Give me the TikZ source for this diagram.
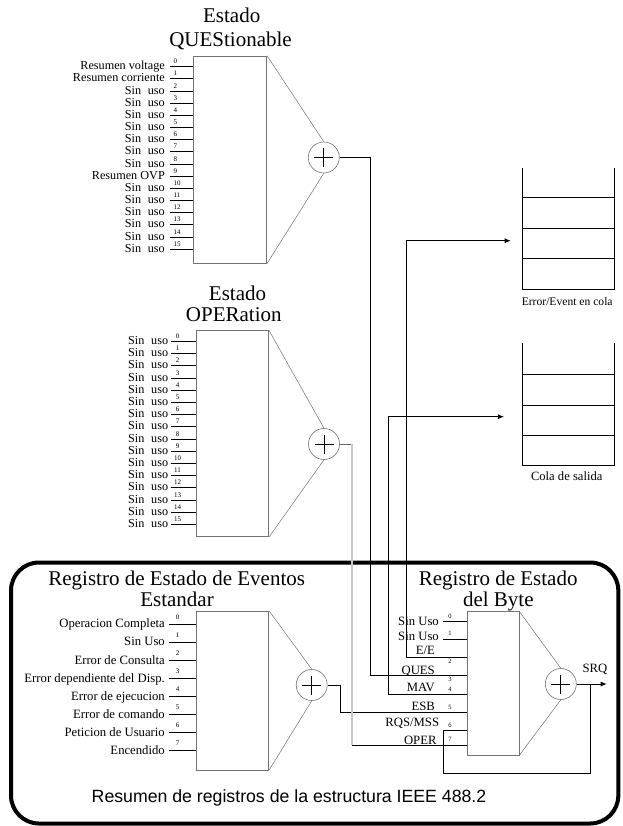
\documentclass[tikz,border=0pt]{standalone}
\usepackage{fontspec}
\setmainfont{Liberation Serif}
\setsansfont{Liberation Sans}
\usetikzlibrary{arrows.meta}
\newcommand\sinuso{Sin\hspace{0.55em}uso}
\newcommand\plusin[1]{\draw[line width=0.7pt] ([xshift=-9.5pt]#1.center) -- ([xshift=9.5pt]#1.center) ([yshift=-9.5pt]#1.center) -- ([yshift=9.5pt]#1.center);}
\begin{document}
\begin{tikzpicture}[x=1pt,y=-1pt,
  regbox/.style={draw=black!55, line width=0.6pt, inner sep=0pt, rectangle},
  sumc/.style={circle, draw=black!55, line width=0.6pt, minimum size=31pt, inner sep=0pt},
  tri/.style={draw=black!55, line width=0.5pt},
  wire/.style={draw=black, line width=0.9pt},
  arr/.style={-{Latex[length=6pt,width=5pt]}},
  lbl/.style={font=\fontsize{12.7}{13}\selectfont, inner sep=0pt},
  lbls/.style={font=\fontsize{12.2}{12.2}\selectfont, inner sep=0pt},
  bitn/.style={font=\fontsize{7}{7}\selectfont, inner sep=0pt},
  ttl/.style={font=\fontsize{21}{22}\selectfont, inner sep=0pt, anchor=base}]
\useasboundingbox (0,0) rectangle (622,826);

% ---------- frame ----------
\draw[line width=4pt, rounded corners=28pt] (11,562.5) rectangle (618.3,823.5);
\node[font=\sffamily\fontsize{17.7}{18}\selectfont, inner sep=0pt, anchor=base] (ftext) at (289,802) {Resumen de registros de la estructura IEEE 488.2};

% ---------- boxes and summing nodes ----------
\node[regbox, minimum width=73.4pt, minimum height=207.3pt] (qbox) at (230,159.65) {};
\node[sumc] (qsum) at (323.8,157.5) {};
\node[regbox, minimum width=72pt, minimum height=206pt] (obox) at (232.7,433.7) {};
\node[sumc] (osum) at (324,444) {};
\node[regbox, minimum width=72pt, minimum height=159pt] (sbox) at (232.7,690.5) {};
\node[sumc] (ssum) at (311.7,685) {};
\node[regbox, minimum width=51.3pt, minimum height=143.3pt] (bbox) at (493.35,683.35) {};
\node[sumc] (bsum) at (560.8,684) {};
\plusin{qsum}\plusin{osum}\plusin{ssum}\plusin{bsum}

\draw[tri] (qbox.north east) -- (qsum.north) (qbox.south east) -- (qsum.south);
\draw[tri] (obox.north east) -- (osum.north) (obox.south east) -- (osum.south);
\draw[tri] (sbox.north east) -- (ssum.north) (sbox.south east) -- (ssum.south);
\draw[tri] (bbox.north east) -- (bsum.north) (bbox.south east) -- (bsum.south);

% ---------- titles ----------
\node[ttl] (qt1) at (231.7,23) {Estado};
\node[ttl] (qt2) at (230.5,46.5) {QUEStionable};
\node[ttl] (ot1) at (237.5,300.7) {Estado};
\node[ttl] (ot2) at (233.8,321.7) {OPERation};
\node[ttl] (st1) at (176.7,585) {Registro de Estado de Eventos};
\node[ttl] (st2) at (177,606.7) {Estandar};
\node[ttl] (bt1) at (498.2,585) {Registro de Estado};
\node[ttl] (bt2) at (498.3,606.7) {del Byte};

% ---------- QUEStionable inputs ----------
\foreach \t [count=\i from 0] in {Resumen voltage,Resumen corriente,\sinuso,\sinuso,\sinuso,\sinuso,\sinuso,\sinuso,\sinuso,Resumen OVP,\sinuso,\sinuso,\sinuso,\sinuso,\sinuso,\sinuso}{
  \pgfmathsetmacro\yy{66.7+12.17*\i}
  \coordinate (qin\i) at (170,\yy);
  \draw[wire] (qin\i) -- (qin\i -| qbox.west);
  \node[lbls, anchor=base east] (ql\i) at (165,\yy+3) {\t};
  \node[bitn, anchor=base west] (qn\i) at (173.3,\yy-3) {\i};
}

% ---------- OPERation inputs ----------
\foreach \i in {0,...,15}{
  \pgfmathsetmacro\yy{341.5+12.2*\i}
  \coordinate (oin\i) at (170.5,\yy);
  \draw[wire] (oin\i) -- (oin\i -| obox.west);
  \node[lbls, anchor=base east] (ol\i) at (168.3,\yy+3) {\sinuso};
  \node[bitn, anchor=base] (on\i) at (177.5,\yy-3) {\i};
}

% ---------- Standard Event inputs ----------
\foreach \t [count=\i from 0] in {Operacion Completa,Sin Uso,Error de Consulta,Error dependiente del Disp.,Error de ejecucion,Error de comando,Peticion de Usuario,Encendido}{
  \pgfmathsetmacro\yy{624+18.1*\i}
  \coordinate (sin\i) at (169,\yy);
  \draw[wire] (sin\i) -- (sin\i -| sbox.west);
  \node[lbl, anchor=base east] (sl\i) at (165,\yy+3.8) {\t};
  \node[bitn, anchor=base] (sn\i) at (177.7,\yy-4.8) {\i};
}

% ---------- Status Byte inputs ----------
\foreach \i/\y in {0/621.7,1/639,2/657.3,3/675.7,4/694,5/712.3,6/730.7,7/745}{
  \coordinate (bin\i) at (bbox.west |- 0,\y);
}
\foreach \i/\t/\x/\y/\ny in {0/Sin Uso/439/625.9/618.5,1/Sin Uso/439/640.2/635.1,2/E\slash E/435/654.2/663.5,3/QUES/435/674.2/681.8,4/MAV/435/691.5/691.8,5/ESB/435/710.9/709.1,6/RQS\slash MSS/439.3/726.9/727.8,7/OPER/436.7/744.2/741.8}{
  \node[lbl, anchor=base east] (bl\i) at (\x,\y) {\t};
  \node[bitn, anchor=base, font=\fontsize{6.5}{7}\selectfont] (bn\i) at (450,\ny) {\i};
}
\draw[wire] (bin0) -- +(-24.4,0);
\draw[wire] (bin1) -- +(-24.4,0);

% ---------- queues ----------
\draw[wire] (522.7,167.7) -- (522.7,289.3) -- (614.3,289.3) -- (614.3,167.7);
\foreach \y in {197.3,228,258.3} \draw[wire] (522.7,\y) -- (614.3,\y);
\node[font=\fontsize{11.6}{12}\selectfont, inner sep=0pt, anchor=base] (eqlbl) at (567.2,305.5) {Error/Event en cola};
\draw[wire] (522.7,343.3) -- (522.7,465) -- (614.3,465) -- (614.3,343.3);
\foreach \y in {374.3,405.3,435.3} \draw[wire] (522.7,\y) -- (614.3,\y);
\node[font=\fontsize{12.6}{13}\selectfont, inner sep=0pt, anchor=base] (oqlbl) at (566.7,480.8) {Cola de salida};

% ---------- connectors ----------
\coordinate (eqin) at (510.7,240.7);
\coordinate (oqin) at (504,416.7);
\coordinate (srqend) at (606.7,684);
\draw[wire] (qsum.east) -| (370.5,0 |- bin3) -- (bin3);
\draw[wire, arr] (bin2) -- (406,0 |- bin2) -- (406,0 |- eqin) -- (eqin);
\draw[wire, arr] (bin4) -- (388.3,0 |- bin4) -- (388.3,0 |- oqin) -- (oqin);
\draw[wire] (ssum.east) -| (340,0 |- bin5) -- (bin5);
\coordinate (opa) at (352,0 |- osum.east);
\coordinate (opb) at (352,0 |- bin7);
\draw[draw=black!60, line width=0.6pt] (osum.east) -- (opa);
\draw[draw=black!22, line width=1.8pt] (opa) -- (opb);
\draw[wire] (opb) -- (bin7);
\draw[wire] (bin6) -- (443.3,0 |- bin6) -- (443.3,773.3) -- (590,773.3) -- (590,0 |- bsum.east);
\draw[wire, arr] (bsum.east) -- (srqend);
\node[lbl, anchor=base] (srq) at (595,672.5) {SRQ};
\end{tikzpicture}
\end{document}
